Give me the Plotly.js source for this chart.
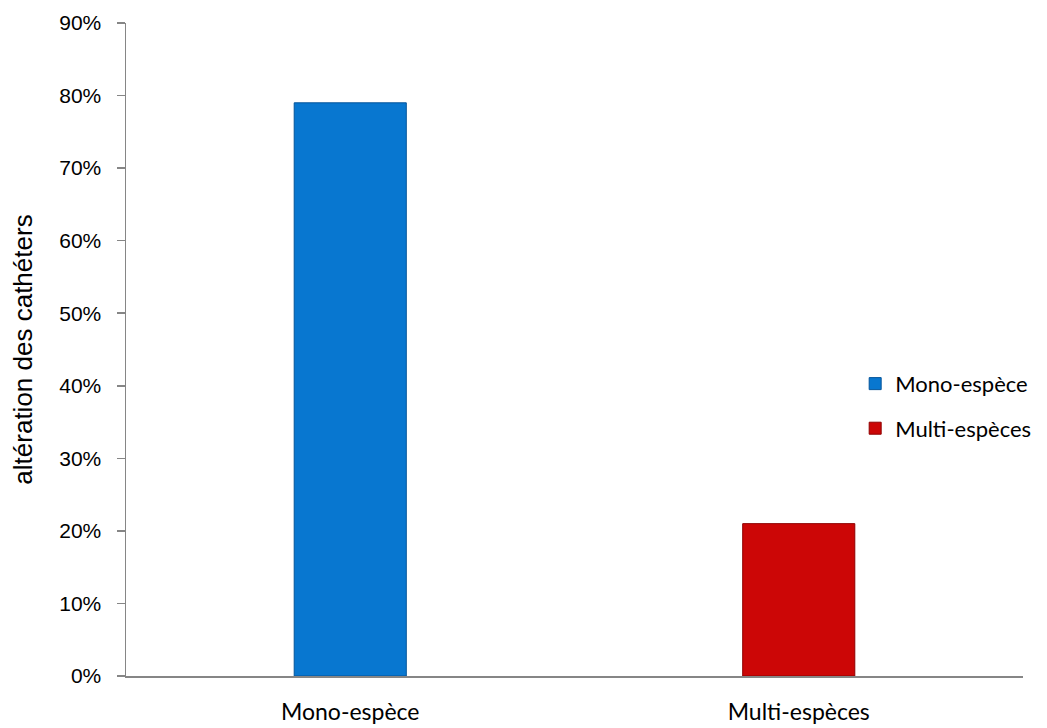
<!DOCTYPE html>
<html>
<head>
<meta charset="utf-8">
<script src="https://cdn.plot.ly/plotly-3.0.1.min.js"></script>
<style>
  html, body { margin: 0; padding: 0; background: #fff; }
  #chart { width: 1047px; height: 728px; }
</style>
</head>
<body>
<div id="chart"></div>
<script>
const categories = ["Mono-espèce", "Multi-espèces"];
const seriesNames = ["Mono-espèce", "Multi-espèces"];
const values = [0.79, 0.21];
const yTitle = "altération des cathéters";
const colors = ["#0877d0", "#cc0606"];
const lineColors = ["#05559a", "#8f0000"];

const traces = categories.map((c, i) => ({
  type: "bar",
  x: [c],
  y: [values[i]],
  name: seriesNames[i],
  legendgroup: "g" + i,
  width: 0.25,
  marker: { color: colors[i], line: { color: lineColors[i], width: 1 } },
  hoverinfo: "x+y"
}));

const layout = {
  width: 1047,
  height: 728,
  margin: { l: 126, r: 23, t: 23, b: 52 },
  paper_bgcolor: "#ffffff",
  plot_bgcolor: "#ffffff",
  barmode: "overlay",
  showlegend: true,
  legend: {
    x: 0.812, xanchor: "left",
    y: 0.413, yanchor: "middle",
    font: { family: "Lato, 'Open Sans', sans-serif", size: 22, color: "#000" },
    tracegroupgap: 13,
    traceorder: "grouped",
    bgcolor: "rgba(0,0,0,0)"
  },
  xaxis: {
    type: "category",
    showline: true,
    linecolor: "#868686",
    linewidth: 1.5,
    ticks: "",
    showgrid: false,
    zeroline: false,
    ticklabelstandoff: 15,
    tickfont: { family: "Lato, 'Open Sans', sans-serif", size: 23, color: "#000" }
  },
  yaxis: {
    range: [0, 0.9],
    dtick: 0.1,
    tick0: 0,
    tickformat: ".0%",
    showline: true,
    linecolor: "#868686",
    linewidth: 1.5,
    ticks: "outside",
    ticklen: 8,
    tickcolor: "#868686",
    tickwidth: 1.5,
    showgrid: false,
    zeroline: false,
    ticklabelstandoff: 11,
    tickfont: { family: "'Liberation Sans', Arial, sans-serif", size: 21, color: "#000" },
    title: {
      text: yTitle,
      font: { family: "'Liberation Sans', Arial, sans-serif", size: 26, color: "#000" },
      standoff: 19
    }
  }
};

Plotly.newPlot("chart", traces, layout, { displayModeBar: false, staticPlot: true });
</script>
</body>
</html>
